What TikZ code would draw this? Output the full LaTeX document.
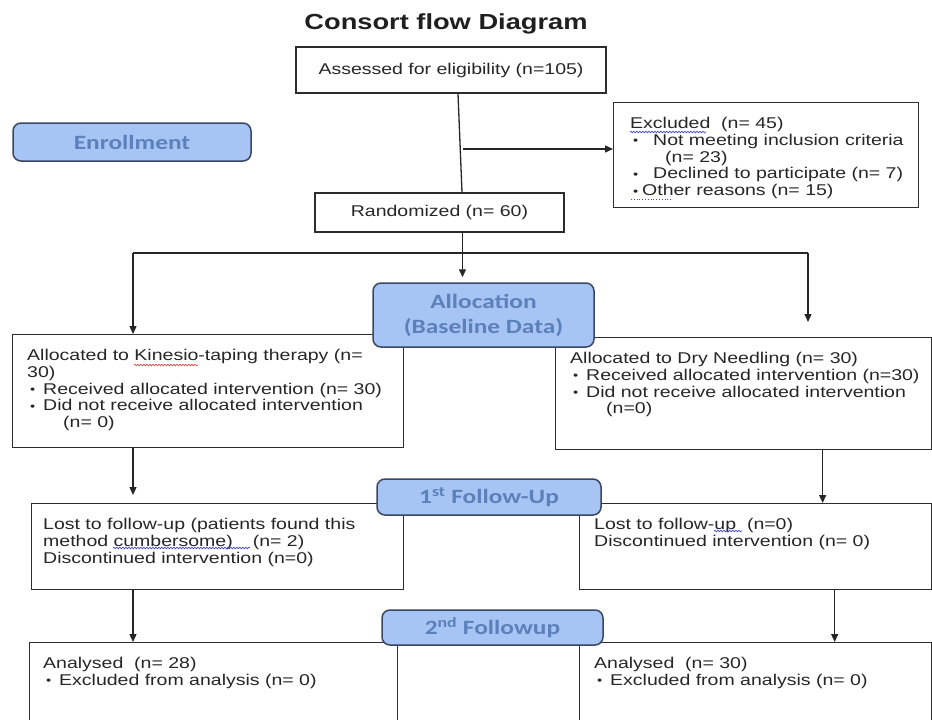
\documentclass[tikz,border=0pt]{standalone}
\usepackage{fontspec}
\usetikzlibrary{arrows.meta,decorations.pathmorphing}
\newfontfamily\bodyfont[FakeStretch=1.25]{Liberation Sans}
\newfontfamily\stagefont[FakeStretch=1.25]{Carlito}
\definecolor{stagefill}{RGB}{166,196,244}
\definecolor{stagetext}{RGB}{92,128,186}
\definecolor{stageline}{RGB}{58,70,98}
\definecolor{boxline}{RGB}{45,45,45}
\definecolor{spellblue}{RGB}{70,70,215}
\definecolor{spellred}{RGB}{220,70,70}
\newcommand{\blt}[1][16pt]{\makebox[#1][l]{\hspace{3pt}\raisebox{0.5pt}{\scalebox{0.75}{•}}}}

\begin{document}
\begin{tikzpicture}[x=1pt, y=-1pt,
    body/.style={font={\bodyfont\fontsize{15.6pt}{16.8pt}\selectfont}, text=black!85},
    box/.style={draw=boxline, line width=1.3pt, inner sep=0pt, body},
    txt/.style={anchor=north west, align=left, inner xsep=15pt, inner ysep=15pt, body},
    stage/.style={draw=stageline, fill=stagefill, line width=1.5pt, rounded corners=8pt,
        text=stagetext, align=center, inner sep=0pt,
        font={\stagefont\bfseries\fontsize{20.3pt}{25pt}\selectfont}},
    line/.style={draw=black!85, line width=1.3pt},
    arr/.style={line, -{Triangle[length=8pt, width=7pt]}},
    wavy/.style={line width=0.7pt, decorate, decoration={snake, amplitude=0.8pt, segment length=3pt}}]
    \useasboundingbox (0,0) rectangle (932,720);
    \clip (0,0) rectangle (932,720);
    % title
    \node[font={\bodyfont\bfseries\fontsize{21.8pt}{24pt}\selectfont}, text=black!88] (title) at (446,24) {Consort flow Diagram};
    % enrollment
    \node[box, minimum width=310pt, minimum height=46pt] (assess) at (451,70) {Assessed for eligibility (n=105)};
    \node[box, anchor=north west, minimum width=305pt, minimum height=105pt,
        label={[txt, inner xsep=17pt]north west:{Excluded\ \ (n= 45)\\
        \blt[23pt]Not meeting inclusion criteria\\
        \hspace*{35pt}(n= 23)\\
        \blt[23pt]Declined to participate (n= 7)\\
        \blt[12pt]Other reasons (n= 15)}}] (excl) at (613,102) {};
    \node[box, minimum width=249pt, minimum height=39pt] (rand) at (439.5,212.5) {Randomized (n= 60)};
    % allocation
    \node[box, anchor=north west, minimum width=391pt, minimum height=113pt,
        label={[txt]north west:{Allocated to Kinesio-taping therapy (n=\\
        30)\\
        \blt Received allocated intervention (n= 30)\\
        \blt Did not receive allocated intervention\\
        \hspace*{36pt}(n= 0)}}] (allocK) at (12,334) {};
    \node[box, anchor=north west, minimum width=376pt, minimum height=112pt,
        label={[txt]north west:{Allocated to Dry Needling (n= 30)\\
        \blt Received allocated intervention (n=30)\\
        \blt Did not receive allocated intervention\\
        \hspace*{36pt}(n=0)}}] (allocD) at (555,337) {};
    % follow-up
    \node[box, anchor=north west, minimum width=372pt, minimum height=86pt,
        label={[txt, inner xsep=12pt]north west:{Lost to follow-up (patients found this\\
        method cumbersome)\hspace{20pt}(n= 2)\\
        Discontinued intervention (n=0)}}] (fuK) at (31,503) {};
    \node[box, anchor=north west, minimum width=352pt, minimum height=86pt,
        label={[txt]north west:{Lost to follow-up\ \ (n=0)\\
        Discontinued intervention (n= 0)}}] (fuD) at (579,503) {};
    % analysis
    \node[box, anchor=north west, minimum width=368pt, minimum height=120pt,
        label={[txt, inner xsep=14pt]north west:{Analysed\ \ (n= 28)\\
        \blt Excluded from analysis (n= 0)}}] (anK) at (29,642) {};
    \node[box, anchor=north west, minimum width=352pt, minimum height=120pt,
        label={[txt]north west:{Analysed\ \ (n= 30)\\
        \blt Excluded from analysis (n= 0)}}] (anD) at (579,642) {};
    % spelling marks
    \path[draw=spellblue, wavy] (630,132) -- (706,132);
    \path[draw=spellblue, line width=0.8pt, dotted] (631,199) -- (672,199);
    \path[draw=spellred, wavy] (134,365) -- (198,365);
    \path[draw=spellblue, wavy] (113,548) -- (250,548);
    \path[draw=spellblue, wavy] (714,531) -- (742,531);
    % stage labels
    \node[stage, minimum width=238pt, minimum height=38pt] (enrol) at (132,142) {Enrollment};
    \node[stage, minimum width=221pt, minimum height=64pt] (alloc) at (483.5,315) {Allocation\\(Baseline Data)};
    \node[stage, minimum width=224pt, minimum height=36pt] (fuA) at (489,497) {1\textsuperscript{st} Follow-Up};
    \node[stage, minimum width=221pt, minimum height=35pt] (fuB) at (492.5,627.5) {2\textsuperscript{nd} Followup};
    % connectors
    \coordinate (ex) at (463,149);
    \coordinate (brL) at (133,253);
    \coordinate (brR) at (808,253);
    \path[line] ([xshift=7pt]assess.south) -- ([xshift=22.5pt]rand.north);
    \path[arr] (ex) -- (ex -| excl.west);
    \path[arr, shorten >=5pt] ([xshift=23pt]rand.south) -- ([xshift=23pt]rand.south |- alloc.north);
    \path[line] (brL) -- (brR);
    \path[arr] (brL) -- (brL |- allocK.north);
    \path[arr, shorten >=15pt] (brR) -- (brR |- allocD.north);
    \path[arr, shorten >=8pt] (allocK.south -| brL) -- (fuK.north -| brL);
    \path[arr] ([xshift=79pt]allocD.south) -- ([xshift=79pt]allocD.south |- fuD.north);
    \path[arr] (fuK.south -| brL) -- (anK.north -| brL);
    \path[arr] ([xshift=79pt]fuD.south) -- ([xshift=79pt]fuD.south |- anD.north);
\end{tikzpicture}
\end{document}
